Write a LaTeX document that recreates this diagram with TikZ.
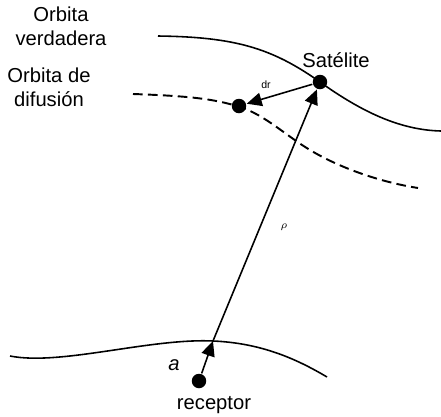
\documentclass[tikz,border=0pt]{standalone}
\usepackage{fontspec}
\setmainfont{Liberation Sans}
\usetikzlibrary{arrows.meta}

\tikzset{
  dot/.style={circle,fill=black,inner sep=0pt,minimum size=0.29cm},
  lbl/.style={font=\fontsize{11.5}{13.5}\selectfont,align=center},
  vec/.style={-{Triangle[length=0.3cm,width=0.27cm]},line width=0.9pt}
}

\begin{document}
\begin{tikzpicture}[x=0.02cm,y=-0.02cm,line width=0.9pt]
\useasboundingbox (0,0) rectangle (441,417);

                % orbits and ground
                \draw (158,36) .. controls (235,37) and (272,48) .. (320,82)
                      .. controls (362,112) and (400,130) .. (441,131);
                \draw[line width=1.1pt,dash pattern=on 5.5pt off 3pt] (133,94) .. controls (190,96) and (215,99) .. (240,107)
                      .. controls (265,115) and (285,135) .. (310,150)
                      .. controls (340,168) and (380,182) .. (418,188);
                \draw (10,356) .. controls (60,366) and (150,338) .. (213,341)
                      .. controls (260,343) and (295,358) .. (327,377);

                \node[dot] (sat) at (320,82) {};
                \node[dot] (dif) at (239,106) {};
                \node[dot] (rec) at (199,381) {};
                \coordinate (g) at (213,341);

                \node[lbl] (tv) at (61,26) {Orbita\\verdadera};
                \node[lbl] (td) at (49,87) {Orbita de\\difusión};
                \node[lbl] (ts) at (336,60) {Satélite};
                \node[lbl] (tr) at (214,405) {receptor};
                \node[font=\fontsize{6}{7}\selectfont] (tdr) at (266,85) {dr};
                \node[font=\fontsize{6.5}{7}\selectfont] (trho) at (284,227) {$\rho$};
                \node[lbl,font=\fontsize{11.5}{13.5}\selectfont\itshape] (ta) at (174,365) {a};

                \draw[vec] (rec) -- (g);
                \draw[vec] (g) -- (sat);
                \draw[vec] (sat) -- (dif);

\end{tikzpicture}
\end{document}
